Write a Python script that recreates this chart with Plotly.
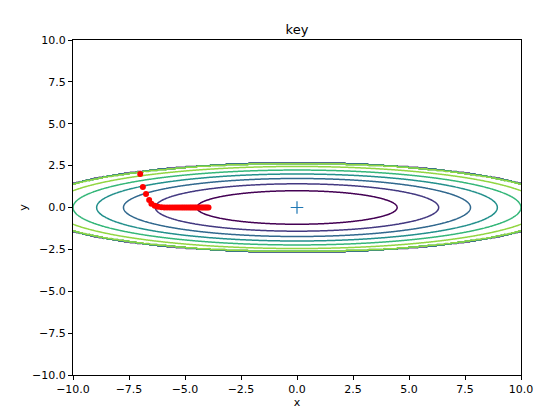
import numpy as np
import plotly.graph_objects as go

# optimizer path
path_x = [-7.0, -6.88, -6.74, -6.6, -6.5, -6.35, -6.2, -6.05, -5.92, -5.8, -5.68, -5.57,
          -5.46, -5.36, -5.26, -5.16, -5.07, -4.98, -4.89, -4.8, -4.72, -4.64, -4.56,
          -4.48, -4.4, -4.33, -4.25, -4.18, -4.1, -4.03, -3.95]
path_y = [2.0, 1.22, 0.8, 0.45, 0.22, 0.1, 0.04, 0.01] + [0.0] * 23

# f(x, y) = x^2/20 + y^2, values above 7 masked to 0
grid_x = np.arange(-10, 10.001, 0.05)
grid_y = np.arange(-10, 10.001, 0.05)
X, Y = np.meshgrid(grid_x, grid_y)
Z = X ** 2 / 20.0 + Y ** 2
Z[Z > 7] = 0

fig = go.Figure()
fig.add_trace(go.Contour(
    x=grid_x, y=grid_y, z=Z,
    contours=dict(coloring="lines", start=1, end=7, size=1),
    colorscale="Viridis", zmin=0, zmax=7,
    line=dict(width=1.5), showscale=False, hoverinfo="skip",
))
fig.add_trace(go.Scatter(x=path_x, y=path_y, mode="markers",
                         marker=dict(color="red", size=6), showlegend=False))
fig.add_trace(go.Scatter(x=[0], y=[0], mode="markers",
                         marker=dict(symbol="cross-thin", size=9, line=dict(color="#1f77b4", width=1.2)),
                         showlegend=False))

ax = dict(range=[-10, 10], tickvals=[-10, -7.5, -5, -2.5, 0, 2.5, 5, 7.5, 10], tickformat=".1f",
          showgrid=False, zeroline=False, showline=True, linecolor="black", mirror=True,
          ticks="outside", ticklen=4, tickcolor="black", tickfont=dict(size=11, color="black"),
          automargin=False)
fig.update_layout(
    width=554, height=409,
    margin=dict(l=65, r=41, t=32, b=42),
    paper_bgcolor="white", plot_bgcolor="white",
    font=dict(family="DejaVu Sans", color="black"),
    title=dict(text="key", x=0.5, xanchor="center", xref="paper",
               y=1, yref="paper", yanchor="bottom", pad=dict(b=6), font=dict(size=13),
               automargin=False),
    xaxis=dict(**ax, title=dict(text="x", standoff=2, font=dict(size=11))),
    yaxis=dict(**ax, title=dict(text="y", standoff=2, font=dict(size=11))),
)
fig.write_html("out.html")
